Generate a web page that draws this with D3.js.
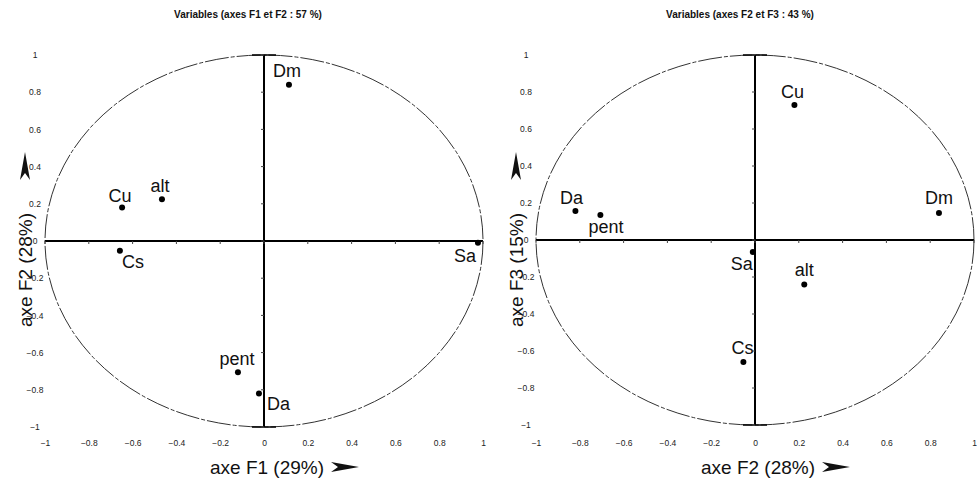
<!DOCTYPE html>
<html>
<head>
<meta charset="utf-8">
<script src="https://cdn.jsdelivr.net/npm/d3@7"></script>
<style>
  body { margin: 0; background: #fff; }
  svg { display: block; }
</style>
</head>
<body>
<div id="chart"></div>
<script>
// variables and their coordinates on the factor axes
const variables = ["Dm", "alt", "Cu", "Cs", "Sa", "pent", "Da"];
const f1 = [0.114, -0.466, -0.648, -0.658, 0.977, -0.119, -0.023];
const f2 = [0.84, 0.225, 0.18, -0.053, -0.01, -0.706, -0.82];
const f3 = [0.146, -0.24, 0.73, -0.66, -0.065, 0.135, 0.157];

const tickValues = [-1, -0.8, -0.6, -0.4, -0.2, 0, 0.2, 0.4, 0.6, 0.8, 1];

const panels = [
    { title: "Variables (axes F1 et F2 : 57 %)", xName: "axe F1 (29%)", yName: "axe F2 (28%)", xs: f1, ys: f2 },
    { title: "Variables (axes F2 et F3 : 43 %)", xName: "axe F2 (28%)", yName: "axe F3 (15%)", xs: f2, ys: f3 }
];

// label offsets (dx, dy, anchor) relative to each point, per panel
const labelPlace = [
    { Dm: [-2, -8, "middle"], alt: [-2, -7, "middle"], Cu: [-2, -6, "middle"], Cs: [2, 17, "start"],
      Sa: [-2, 19, "end"], pent: [-1, -7, "middle"], Da: [8, 16, "start"] },
    { Dm: [0, -9, "middle"], alt: [0, -8, "middle"], Cu: [-2, -7, "middle"], Cs: [-1, -8, "middle"],
      Sa: [0, 18, "end"], pent: [-12, 18, "start"], Da: [-4, -7, "middle"] }
];

const W = 977, H = 481;
const frames = [
    { x0: 45, x1: 483, yTop: 55, yBot: 427, titleX: 248, yLabX: 35, yNameX: 25 },
    { x0: 536, x1: 974, yTop: 55, yBot: 425, titleX: 740, yLabX: 526, yNameX: 516 }
];

const svg = d3.select("#chart").append("svg")
    .attr("width", W)
    .attr("height", H);

panels.forEach((p, i) => {
    const f = frames[i];
    const x = d3.scaleLinear().domain([-1, 1]).range([f.x0, f.x1]);
    const y = d3.scaleLinear().domain([-1, 1]).range([f.yBot, f.yTop]);
    const g = svg.append("g");

    // title
    g.append("text")
        .attr("x", f.titleX)
        .attr("y", 18)
        .attr("text-anchor", "middle")
        .attr("font-family", "Liberation Sans Narrow, Arial Narrow, sans-serif")
        .attr("font-weight", "bold")
        .attr("font-size", "10px")
        .attr("fill", "#111")
        .text(p.title);

    // correlation circle
    g.append("ellipse")
        .attr("cx", x(0))
        .attr("cy", y(0))
        .attr("rx", x(1) - x(0))
        .attr("ry", y(0) - y(1))
        .attr("fill", "none")
        .attr("stroke", "#333")
        .attr("stroke-width", 1)
        .attr("stroke-dasharray", "24,2,4,2");

    // zero lines
    g.append("line")
        .attr("x1", x(-1)).attr("x2", x(1))
        .attr("y1", y(0)).attr("y2", y(0))
        .attr("stroke", "#000").attr("stroke-width", 2);
    g.append("line")
        .attr("x1", x(0)).attr("x2", x(0))
        .attr("y1", y(1)).attr("y2", y(-1))
        .attr("stroke", "#000").attr("stroke-width", 2);
    // small caps at ends of vertical axis
    [1, -1].forEach(v => {
        g.append("line")
            .attr("x1", x(0) - 12).attr("x2", x(0) + 12)
            .attr("y1", y(v)).attr("y2", y(v))
            .attr("stroke", "#000").attr("stroke-width", 1.5);
    });
    // minor marks along zero lines
    g.selectAll(".hmark").data(tickValues).join("line")
        .attr("x1", d => x(d)).attr("x2", d => x(d))
        .attr("y1", y(0)).attr("y2", y(0) + 3)
        .attr("stroke", "#444").attr("stroke-width", 1);
    g.selectAll(".vmark").data(tickValues).join("line")
        .attr("x1", x(0) - 3).attr("x2", x(0))
        .attr("y1", d => y(d)).attr("y2", d => y(d))
        .attr("stroke", "#444").attr("stroke-width", 1);

    // tick labels
    const fmt = d => d === 0 ? "0" : d3.format(".1~f")(d);
    const xAxis = g.append("g")
        .attr("transform", `translate(0, 437)`)
        .call(d3.axisBottom(x).tickValues(tickValues).tickSize(0).tickFormat(fmt));
    const yAxis = g.append("g")
        .attr("transform", `translate(${f.yLabX}, 0)`)
        .call(d3.axisLeft(y).tickValues(tickValues).tickSize(0).tickPadding(0).tickFormat(fmt));
    [xAxis, yAxis].forEach(a => {
        a.select(".domain").remove();
        a.selectAll("text")
            .attr("font-family", "Liberation Sans Narrow, Arial Narrow, sans-serif")
            .attr("font-size", "8.5px")
            .attr("fill", "#222");
    });
    yAxis.selectAll("text").attr("text-anchor", "middle").attr("x", 0);

    // axis names with arrows
    g.append("text")
        .attr("x", x(0) + 3)
        .attr("y", 474)
        .attr("text-anchor", "middle")
        .attr("font-family", "Liberation Sans, Arial, sans-serif")
        .attr("font-size", "19px")
        .attr("fill", "#111")
        .text(p.xName);
    g.append("path")
        .attr("d", "M0,-5L28,0L0,5L7,0Z")
        .attr("transform", `translate(${x(0) + 67}, 467)`)
        .attr("fill", "#111");

    g.append("text")
        .attr("transform", `translate(${f.yNameX + 7}, 270) rotate(-90)`)
        .attr("text-anchor", "middle")
        .attr("font-family", "Liberation Sans, Arial, sans-serif")
        .attr("font-size", "19px")
        .attr("fill", "#111")
        .text(p.yName);
    g.append("path")
        .attr("d", "M0,-5L28,0L0,5L7,0Z")
        .attr("transform", `translate(${f.yNameX}, 180) rotate(-90)`)
        .attr("fill", "#111");

    // points and labels
    const pts = variables.map((v, k) => ({ name: v, px: p.xs[k], py: p.ys[k] }));
    g.selectAll(".pt").data(pts).join("circle")
        .attr("cx", d => x(d.px))
        .attr("cy", d => y(d.py))
        .attr("r", 3)
        .attr("fill", "#000");
    g.selectAll(".lbl").data(pts).join("text")
        .attr("x", d => x(d.px) + labelPlace[i][d.name][0])
        .attr("y", d => y(d.py) + labelPlace[i][d.name][1])
        .attr("text-anchor", d => labelPlace[i][d.name][2])
        .attr("font-family", "Liberation Sans, Arial, sans-serif")
        .attr("font-size", "18px")
        .attr("fill", "#111")
        .text(d => d.name);
});
</script>
</body>
</html>
